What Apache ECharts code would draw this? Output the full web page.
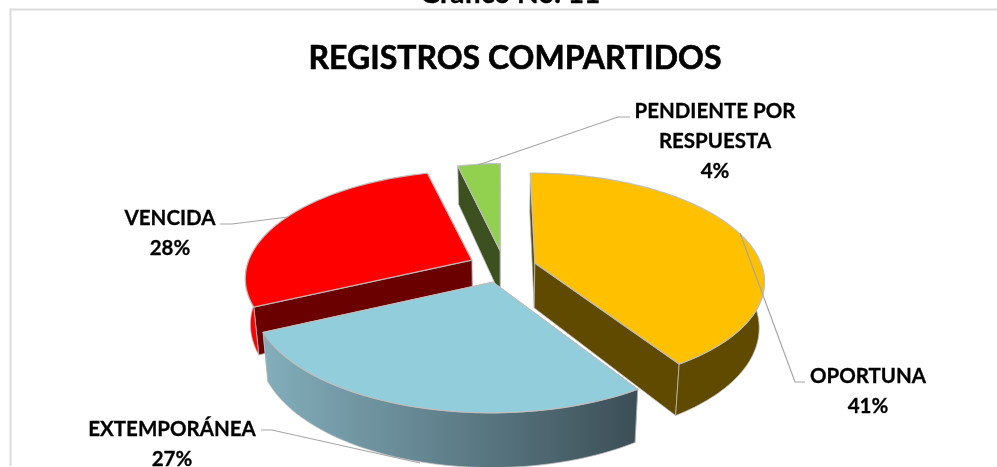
<!DOCTYPE html>
<html><head><meta charset="utf-8">
<style>html,body{margin:0;padding:0;background:#fff}#c{width:997px;height:467px}</style>
<script src="https://cdn.jsdelivr.net/npm/echarts@6/dist/echarts.min.js"></script>
</head><body><div id="c"></div>
<script>
const categories = ['OPORTUNA','EXTEMPORÁNEA','VENCIDA','PENDIENTE POR\nRESPUESTA'];
const values = [41,27,28,4];
const mainTitle = 'REGISTROS COMPARTIDOS';
const topCaption = 'Gráfico No. 11';

// appearance
const topColors = ['#ffc000','#92cddc','#ff0000','#92d050'];
const sideColors = ['#604a00','#5f7f8a','#ff0000','#3c5020'];
const cutColors = ['#604a00','#5f7f8a','#6a0000','#3c5020'];
const paintRank = [2,3,1,0];
const shifts = [[.146,-.028],[-.034,.15],[-.126,-.056],[-.004,-.15]];
const xScales = [.974,.99,.966,.86];
const labelPos = [[868,391],[172,444],[170,233],[715,141]];
const leaders = [
 [[740,233],[795,382],[805,382]],
 [[261,430],[272,430],[420,463]],
 [[220,224],[232,224],[288,217]],
 [[478,165],[618,117],[630,117]]
];
const cx=501, cy=266, R=233, Rk=104.9, p=.155, H=45, shrink=.98;

function pt(X,Y,down){
  const s=1/(1-p*Y);
  let x=cx+X*R*s, y=cy+Y*Rk*s;
  if(down){ x=cx+(x-cx)*shrink; y+=H*s; }
  return [x,y];
}
const total=values.reduce((a,b)=>a+b,0);
function sliceAngles(i){
  let a=0; for(let k=0;k<i;k++) a+=values[k];
  return [a/total*Math.PI*2,(a+values[i])/total*Math.PI*2];
}
function renderItem(params){
  const i=params.dataIndex, [a0,a1]=sliceAngles(i), [ox,oy]=shifts[i], xs=xScales[i];
  const n=Math.max(8,Math.round((a1-a0)*40));
  const arcTop=[],arcBot=[],frontTop=[],frontBot=[];
  for(let k=0;k<=n;k++){
    const t=a0+(a1-a0)*k/n, X=ox+xs*Math.sin(t), Y=oy-Math.cos(t);
    const a=pt(X,Y,false), b=pt(X,Y,true);
    arcTop.push(a); arcBot.push(b);
    if(Math.cos(t)<0.02){ frontTop.push(a); frontBot.push(b); }
  }
  const apexT=pt(ox,oy,false), apexB=pt(ox,oy,true);
  const base=paintRank[i]*10+10;
  const edge='rgba(190,190,190,.95)';
  let sideFill=sideColors[i];
  if(i===1){
    sideFill=new echarts.graphic.LinearGradient(arcBot[n][0],0,arcBot[0][0],0,[
      {offset:0,color:'#82adba'},{offset:.5,color:'#5f7f8a'},{offset:1,color:'#3c4f57'}],true);
  }
  const poly=(points,fill,z,w)=>({type:'polygon',z2:z,shape:{points},
    style:{fill,stroke:edge,lineWidth:w}});
  const startFront=-Math.cos(a0)>-Math.cos(a1);
  const children=[
    poly([arcTop[0],apexT,apexB,arcBot[0]],cutColors[i],base+(startFront?1:0),.8),
    poly([arcTop[n],apexT,apexB,arcBot[n]],cutColors[i],base+(startFront?0:1),.8)
  ];
  if(frontTop.length>1){
    children.push(poly(frontTop.concat(frontBot.slice().reverse()),sideFill,base+2,.8));
  }
  children.push(poly([apexT].concat(arcTop),topColors[i],base+3,1.2));
  children.push({type:'polyline',z2:100,shape:{points:leaders[i]},
    style:{fill:'none',stroke:'#a6a6a6',lineWidth:1.2}});
  children.push({type:'text',z2:101,x:labelPos[i][0],y:labelPos[i][1],
    style:{text:categories[i]+'\n'+values[i]+'%',fill:'#000',align:'center',verticalAlign:'middle',
      font:'bold 20.5px Lato',lineHeight:30,stroke:'#000',lineWidth:.3}});
  return {type:'group',children};
}
const chart=echarts.init(document.getElementById('c'),null,{renderer:'canvas'});
chart.setOption({
  animation:false,
  backgroundColor:'#fff',
  title:{text:mainTitle,left:510,top:38,textAlign:'center',
    textStyle:{fontFamily:'Lato',fontWeight:'bold',fontSize:32,color:'#000',textBorderColor:'#000',textBorderWidth:.6}},
  graphic:[
    {type:'polyline',z:0,shape:{points:[[10.5,466],[10.5,9.5],[997,9.5]]},style:{fill:'none',stroke:'#dcdcdc',lineWidth:2}},
    {type:'text',z:5,x:510,y:8,style:{text:topCaption,fill:'#000',align:'center',verticalAlign:'bottom',font:'bold 28px Lato',stroke:'#000',lineWidth:.4}}
  ],
  series:[{type:'custom',coordinateSystem:'none',silent:true,clip:false,renderItem,data:values}]
});
</script></body></html>
